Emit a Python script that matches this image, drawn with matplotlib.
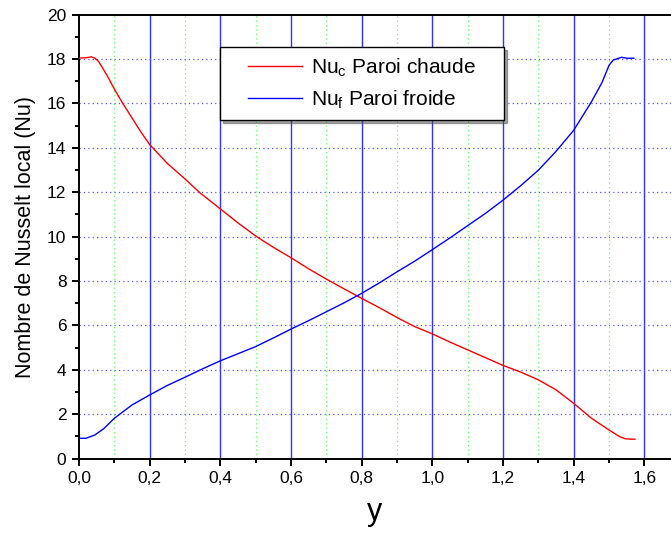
import matplotlib
matplotlib.use('Agg')
import matplotlib.pyplot as plt
from matplotlib.lines import Line2D
from matplotlib.legend_handler import HandlerLine2D
from matplotlib.ticker import MultipleLocator, FuncFormatter

# Nombre de Nusselt local le long des parois
y_chaude = [0.000, 0.020, 0.035, 0.045, 0.055, 0.065, 0.083, 0.100, 0.124, 0.150,
            0.175, 0.200, 0.250, 0.300, 0.342, 0.400, 0.450, 0.500, 0.550, 0.600,
            0.650, 0.700, 0.750, 0.800, 0.850, 0.908, 0.950, 1.000, 1.050, 1.100,
            1.150, 1.200, 1.250, 1.300, 1.350, 1.400, 1.450, 1.500, 1.530, 1.545,
            1.560, 1.573]
nu_chaude = [18.05, 18.06, 18.10, 18.04, 17.90, 17.65, 17.16, 16.65, 16.00, 15.35,
             14.72, 14.15, 13.30, 12.60, 11.98, 11.25, 10.62, 10.03, 9.52, 9.05,
             8.55, 8.09, 7.65, 7.22, 6.80, 6.29, 5.95, 5.62, 5.25, 4.90,
             4.55, 4.20, 3.90, 3.55, 3.10, 2.49, 1.82, 1.29, 0.99, 0.90,
             0.88, 0.88]

y_froide = [0.000, 0.020, 0.045, 0.070, 0.100, 0.150, 0.200, 0.250, 0.300, 0.350,
            0.400, 0.450, 0.500, 0.554, 0.600, 0.650, 0.700, 0.750, 0.800, 0.850,
            0.900, 0.950, 1.000, 1.050, 1.100, 1.150, 1.200, 1.250, 1.300, 1.350,
            1.400, 1.450, 1.480, 1.500, 1.512, 1.535, 1.550, 1.570]
nu_froide = [0.92, 0.92, 1.07, 1.35, 1.82, 2.42, 2.87, 3.30, 3.67, 4.05,
             4.41, 4.73, 5.05, 5.47, 5.84, 6.22, 6.62, 7.02, 7.45, 7.92,
             8.42, 8.90, 9.42, 9.95, 10.50, 11.05, 11.65, 12.30, 13.00, 13.85,
             14.80, 16.08, 16.95, 17.73, 17.96, 18.08, 18.04, 18.04]

plt.rcParams['font.family'] = ['Liberation Sans', 'DejaVu Sans']
plt.rcParams['mathtext.fontset'] = 'custom'
plt.rcParams['mathtext.rm'] = 'Liberation Sans'


# la ligne de la légende commence un peu plus loin du bord
class ShortLine(HandlerLine2D):
    def create_artists(self, legend, orig_handle, xdescent, ydescent, width, height, fontsize, trans):
        artists = super().create_artists(legend, orig_handle, xdescent, ydescent, width, height, fontsize, trans)
        for a in artists:
            if isinstance(a, Line2D):
                xd = a.get_xdata()
                if len(xd) >= 2:
                    x0, x1 = xd[0], xd[-1]
                    a.set_xdata([x0 + 0.26 * (x1 - x0), x1])
                    a.set_ydata([a.get_ydata()[0]] * 2)
        return artists


fig = plt.figure(figsize=(6.71, 5.38), dpi=100)
ax = fig.add_axes([0.1177, 0.1474, 0.8823, 0.8253])

# grille
for v in [0.2, 0.4, 0.6, 0.8, 1.0, 1.2, 1.4, 1.6]:
    ax.axvline(v, color='#3030ff', lw=1.0, zorder=1)
for v in [0.1, 0.3, 0.5, 0.7, 0.9, 1.1, 1.3, 1.5]:
    ax.axvline(v, color='#66ff66', lw=0.9, ls=(0, (1, 2.5)), zorder=1)
for v in [2, 4, 6, 8, 10, 12, 14, 16, 18]:
    ax.axhline(v, color='#5555ff', lw=0.9, ls=(0, (1, 2.5)), zorder=1)

ax.plot(y_chaude, nu_chaude, color='red', lw=1.0, label=r'Nu$_\mathregular{c}$ Paroi chaude', zorder=3)
ax.plot(y_froide, nu_froide, color='blue', lw=1.0, label=r'Nu$_\mathregular{f}$ Paroi froide', zorder=3)

ax.set_xlim(0, 1.675)
ax.set_ylim(0, 20)
ax.xaxis.set_major_locator(MultipleLocator(0.2))
ax.xaxis.set_minor_locator(MultipleLocator(0.1))
ax.yaxis.set_major_locator(MultipleLocator(2))
ax.yaxis.set_minor_locator(MultipleLocator(1))
ax.xaxis.set_major_formatter(FuncFormatter(lambda v, p: f'{v:.1f}'.replace('.', ',')))
ax.yaxis.set_major_formatter(FuncFormatter(lambda v, p: f'{v:.0f}'))
ax.tick_params(which='major', direction='out', length=5, width=1.4, labelsize=12.5, pad=4)
ax.tick_params(which='minor', direction='out', length=3, width=1.4)

for s in ['left', 'bottom', 'top']:
    ax.spines[s].set_linewidth(1.4)
ax.spines['right'].set_visible(False)

ax.set_xlabel('y', fontsize=22, labelpad=8)
ax.set_ylabel('Nombre de Nusselt local (Nu)', fontsize=15.5, labelpad=8)

leg = ax.legend(loc='upper left', bbox_to_anchor=(0.238, 0.761, 0.48, 0.166), mode='expand',
                fontsize=15, fancybox=False, shadow=True, framealpha=1, borderaxespad=0,
                handlelength=3.5, handletextpad=0.4, labelspacing=0.45, borderpad=0.45,
                handler_map={Line2D: ShortLine()})
leg.get_frame().set_edgecolor('black')
leg.get_frame().set_linewidth(1.0)
leg.set_zorder(5)

fig.savefig('out.png', dpi=100)
